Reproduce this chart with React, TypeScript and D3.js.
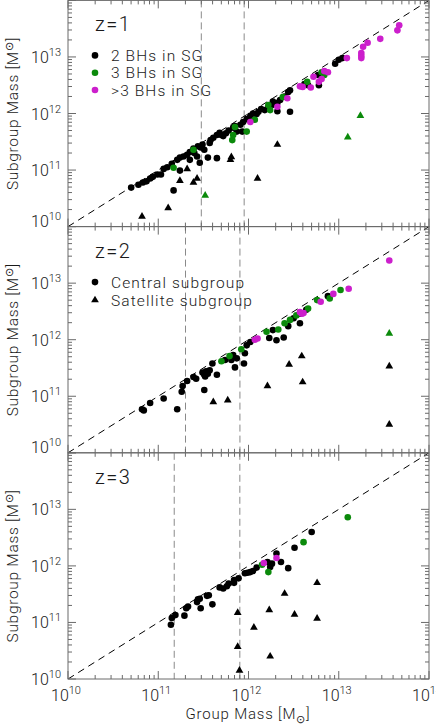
import React from 'react';
import * as d3 from 'd3';

// ---------- data (log10 of masses in solar masses) ----------
const zLabels = ['z=1', 'z=2', 'z=3'];
const massCuts = [
  [11.477, 11.952],
  [11.302, 11.905],
  [11.177, 11.904],
];
const tickExponents = [10, 11, 12, 13, 14];

// panel z=1
const z1Central2 = [[10.70,10.69],[10.78,10.74],[10.83,10.78],[10.87,10.80],[10.91,10.85],[10.94,10.88],[10.99,10.92],[11.03,10.92],[11.06,11.02],[11.10,11.05],[11.15,11.11],[11.21,11.18],[11.24,11.22],[11.17,10.64],[11.24,10.99],[11.28,11.24],[11.32,11.27],[11.35,11.32],[11.39,11.38],[11.40,11.30],[11.44,11.42],[11.35,11.18],[11.43,11.24],[11.46,11.13],[11.47,11.40],[11.49,11.45],[11.51,11.36],[11.55,11.22],[11.57,11.48],[11.58,11.53],[11.61,11.57],[11.65,11.62],[11.65,11.21],[11.68,11.66],[11.70,11.62],[11.72,11.60],[11.75,11.65],[11.78,11.70],[11.83,11.75],[11.85,11.78],[11.87,11.68],[11.91,11.80],[11.93,11.68],[11.94,11.85],[11.98,11.90],[12.02,11.96],[12.05,12.00],[12.09,11.99],[12.11,12.03],[12.14,12.08],[12.18,12.06],[12.22,12.12],[12.26,12.15],[12.27,12.21],[12.32,12.19],[12.35,12.24],[12.32,12.04],[12.40,12.30],[12.44,12.38],[12.46,12.41],[12.46,12.03],[12.62,12.52],[12.66,12.50],[12.77,12.68],[12.78,12.50],[12.96,12.88],[13.00,12.95],[13.04,12.98]];
const z1Central3 = [[11.17,11.04],[11.39,11.36],[11.82,11.53],[11.83,11.62],[11.85,11.76],[11.98,11.68],[12.07,11.89],[12.22,12.15],[12.24,12.06],[12.38,12.29],[12.65,12.56],[12.81,12.73],[12.84,12.68]];
const z1CentralMore = [[12.02,11.85],[12.32,12.12],[12.43,12.27],[12.57,12.48],[12.60,12.47],[12.69,12.46],[12.72,12.65],[12.78,12.56],[12.81,12.61],[12.84,12.75],[12.88,12.73],[13.09,12.98],[13.25,13.07],[13.25,13.02],[13.25,12.98],[13.27,13.18],[13.32,13.25],[13.46,13.32],[13.65,13.47],[13.67,13.56]];
const z1Sat2 = [[10.82,10.18],[11.11,10.33],[11.24,10.81],[11.32,11.02],[11.39,10.78],[11.43,10.85],[11.81,11.23],[11.80,11.18],[12.10,10.85],[12.32,11.45]];
const z1Sat3 = [[11.52,10.55],[13.10,11.58],[13.24,11.96]];
const z1SatMore = [];

// panel z=2
const z2Central2 = [[10.82,10.77],[10.84,10.75],[10.91,10.88],[11.06,10.96],[11.21,10.77],[11.26,11.08],[11.27,11.18],[11.32,11.27],[11.39,11.34],[11.42,11.31],[11.51,11.11],[11.49,11.42],[11.51,11.38],[11.53,11.44],[11.55,11.40],[11.57,11.46],[11.52,11.35],[11.60,11.58],[11.65,11.38],[11.74,11.64],[11.81,11.64],[11.83,11.73],[11.85,11.51],[11.87,11.67],[11.95,11.58],[11.96,11.76],[11.98,11.90],[12.02,11.96],[12.23,12.03],[12.27,12.17],[12.31,11.99],[12.39,12.04],[12.44,12.24],[12.50,12.38],[12.57,12.29],[12.57,12.46],[12.64,12.53],[12.88,12.77]];
const z2Central3 = [[11.70,11.62],[11.79,11.71],[11.92,11.83],[12.20,12.14],[12.33,12.18],[12.40,12.29],[12.46,12.35],[12.53,12.43],[12.66,12.55],[12.76,12.70],[12.90,12.73],[13.02,12.88]];
const z2CentralMore = [[12.07,12.00],[12.10,12.02],[12.57,12.49],[12.59,12.46],[12.61,12.47],[12.80,12.67],[12.94,12.81],[13.11,12.90],[13.56,13.40]];
const z2Sat2 = [[11.61,10.90],[11.77,10.93],[12.21,11.18],[12.45,11.56],[12.59,11.71],[12.60,11.25],[13.56,11.53],[13.56,10.50]];
const z2Sat3 = [[13.56,12.11]];
const z2SatMore = [];

// panel z=3
const z3Central2 = [[11.14,10.96],[11.15,11.08],[11.19,11.13],[11.29,11.12],[11.31,11.25],[11.33,11.28],[11.43,11.36],[11.44,11.41],[11.46,11.42],[11.47,11.25],[11.54,11.47],[11.56,11.48],[11.60,11.32],[11.68,11.62],[11.72,11.60],[11.76,11.64],[11.78,11.69],[11.84,11.70],[11.84,11.75],[11.89,11.78],[11.96,11.87],[11.99,11.88],[12.02,11.89],[12.05,11.91],[12.09,11.97],[12.21,12.07],[12.24,11.98],[12.26,12.04],[12.31,12.22],[12.36,12.07],[12.44,11.96],[12.51,12.32],[12.70,12.60]];
const z3Central3 = [[12.15,12.02],[12.22,11.89],[12.61,12.42],[13.10,12.86]];
const z3CentralMore = [[12.17,12.05],[12.31,12.14]];
const z3Sat2 = [[11.88,11.17],[11.88,10.57],[11.90,10.15],[12.06,10.91],[12.23,11.22],[12.24,10.40],[12.40,11.51],[12.51,11.14],[12.76,11.70],[12.76,11.07]];
const z3Sat3 = [];
const z3SatMore = [];

const bhLegend = ['2 BHs in SG', '3 BHs in SG', '>3 BHs in SG'];
const typeLegend = ['Central subgroup', 'Satellite subgroup'];

// ---------- layout / style ----------
const W = 436, H = 726;
const LEFT = 68, RIGHT = 429;
const TOP0 = 0.4, PH = 226.2;
const FRAME = '#6a6a6a';
const COLORS = ['#000000', '#0b8a0b', '#cc1fcc'];
const FONT = 'Roboto, "Liberation Sans", sans-serif';
const FW = 300;
const TXT = '#1a1a1a';

const panels = [
  { central: [z1Central2, z1Central3, z1CentralMore], sat: [z1Sat2, z1Sat3, z1SatMore] },
  { central: [z2Central2, z2Central3, z2CentralMore], sat: [z2Sat2, z2Sat3, z2SatMore] },
  { central: [z3Central2, z3Central3, z3CentralMore], sat: [z3Sat2, z3Sat3, z3SatMore] },
];

const x = d3.scaleLog().domain([1e10, 1e14]).range([LEFT, RIGHT]);
const tri = d3.symbol(d3.symbolTriangle, 26)();

function minorValues() {
  const out = [];
  for (let e = 10; e < 14; e++) for (let m = 2; m <= 9; m++) out.push(m * Math.pow(10, e));
  return out;
}
const minors = minorValues();
const majors = tickExponents.map(e => Math.pow(10, e));

function Panel({ idx }) {
  const top = TOP0 + idx * PH;
  const bottom = top + PH;
  const y = d3.scaleLog().domain([1e10, 1e14]).range([bottom, top]);
  const p = panels[idx];
  const clipId = `clip${idx}`;
  const MAJ = 8, MIN = 4;
  return (
    <g>
      <defs>
        <clipPath id={clipId}><rect x={LEFT} y={top} width={RIGHT - LEFT} height={PH} /></clipPath>
      </defs>
      <g clipPath={`url(#${clipId})`}>
        {massCuts[idx].map((c, i) => (
          <line key={i} x1={x(Math.pow(10, c))} x2={x(Math.pow(10, c))} y1={top} y2={bottom}
            stroke="#8a8a8a" strokeWidth={1} strokeDasharray="7,4" />
        ))}
        <line x1={x(1e10)} y1={y(1e10)} x2={x(1e14)} y2={y(1e14)} stroke="#000" strokeWidth={1} strokeDasharray="7,5" />
        {p.central.map((arr, ci) => arr.map((d, i) => (
          <circle key={`c${ci}-${i}`} cx={x(Math.pow(10, d[0]))} cy={y(Math.pow(10, d[1]))} r={3.3} fill={COLORS[ci]} />
        )))}
        {p.sat.map((arr, ci) => arr.map((d, i) => (
          <path key={`t${ci}-${i}`} d={tri} transform={`translate(${x(Math.pow(10, d[0]))},${y(Math.pow(10, d[1]))})`} fill={COLORS[ci]} />
        )))}
      </g>
      <rect x={LEFT} y={top} width={RIGHT - LEFT} height={PH} fill="none" stroke={FRAME} strokeWidth={1} />
      {majors.map((v, i) => (
        <g key={`xm${i}`}>
          <line x1={x(v)} x2={x(v)} y1={bottom} y2={bottom - MAJ} stroke={FRAME} />
          <line x1={x(v)} x2={x(v)} y1={top} y2={top + MAJ} stroke={FRAME} />
          <line x1={LEFT} x2={LEFT + MAJ} y1={y(v)} y2={y(v)} stroke={FRAME} />
          <line x1={RIGHT} x2={RIGHT - MAJ} y1={y(v)} y2={y(v)} stroke={FRAME} />
        </g>
      ))}
      {minors.map((v, i) => (
        <g key={`xn${i}`}>
          <line x1={x(v)} x2={x(v)} y1={bottom} y2={bottom - MIN} stroke={FRAME} />
          <line x1={x(v)} x2={x(v)} y1={top} y2={top + MIN} stroke={FRAME} />
          <line x1={LEFT} x2={LEFT + MIN} y1={y(v)} y2={y(v)} stroke={FRAME} />
          <line x1={RIGHT} x2={RIGHT - MIN} y1={y(v)} y2={y(v)} stroke={FRAME} />
        </g>
      ))}
      {tickExponents.slice(0, 4).map((e, i) => {
        const shift = (i === 0 && idx < 2) ? -6 : 0;
        return (
          <text key={`yl${i}`} x={61} y={y(Math.pow(10, e)) + 6 + shift} textAnchor="end" fontSize={16} fontWeight={FW} fill={TXT} fontFamily={FONT}>
            10<tspan fontSize={11} dy={-7}>{e}</tspan>
          </text>
        );
      })}
      <text transform={`translate(18,${(top + bottom) / 2}) rotate(-90)`} textAnchor="middle" fontSize={15.5} fontWeight={FW} fill={TXT} fontFamily={FONT} letterSpacing={0.7}>
        Subgroup Mass [M<tspan fontSize={11} dy={-5}>⊙</tspan><tspan dy={5}>]</tspan>
      </text>
      <text x={95} y={top + 31} fontSize={20} fontWeight={FW} fill={TXT} fontFamily={FONT} letterSpacing={1.5}>{zLabels[idx]}</text>
      {idx === 0 && bhLegend.map((t, i) => (
        <g key={`lg${i}`}>
          <circle cx={95} cy={top + 55 + i * 17.3} r={3.3} fill={COLORS[i]} />
          <text x={111} y={top + 60.5 + i * 17.3} fontSize={15.5} fontWeight={FW} fill={TXT} fontFamily={FONT} letterSpacing={1.1}>{t}</text>
        </g>
      ))}
      {idx === 1 && typeLegend.map((t, i) => (
        <g key={`lt${i}`}>
          {i === 0
            ? <circle cx={95} cy={top + 55.5} r={3.3} fill="#000" />
            : <path d={tri} transform={`translate(95,${top + 73.5})`} fill="#000" />}
          <text x={111} y={top + 61 + i * 18} fontSize={15.5} fontWeight={FW} fill={TXT} fontFamily={FONT} letterSpacing={1.1}>{t}</text>
        </g>
      ))}
    </g>
  );
}

export default function App() {
  const bottomAll = TOP0 + 3 * PH;
  return (
    <svg width={W} height={H} style={{ position: 'absolute', left: 0, top: 0, background: '#fff' }}>
      <rect x={0} y={0} width={W} height={H} fill="#fff" />
      {[0, 1, 2].map(i => <Panel key={i} idx={i} />)}
      {tickExponents.map((e, i) => (
        <text key={`xl${i}`} x={x(Math.pow(10, e)) - 2} y={bottomAll + 22} textAnchor="middle" fontSize={16} fontWeight={FW} fill={TXT} fontFamily={FONT}>
          10<tspan fontSize={11} dy={-7}>{e}</tspan>
        </text>
      ))}
      <text x={248} y={bottomAll + 40} textAnchor="middle" fontSize={15} fontWeight={FW} fill={TXT} fontFamily={FONT} letterSpacing={0.8}>
        Group Mass [M<tspan fontSize={11} dy={4}>⊙</tspan><tspan dy={-4}>]</tspan>
      </text>
    </svg>
  );
}
